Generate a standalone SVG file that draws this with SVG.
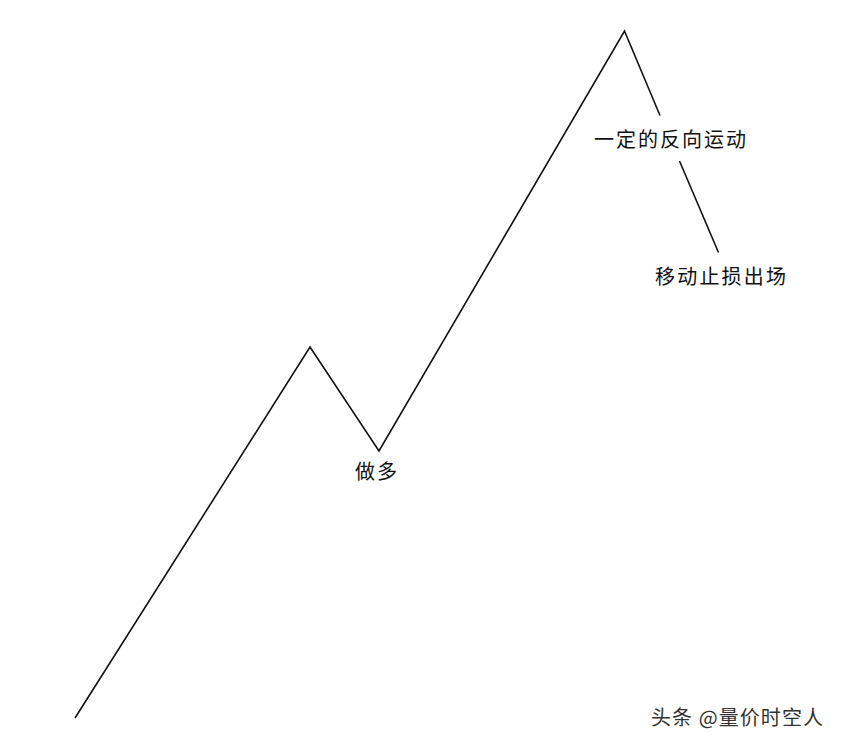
<svg xmlns="http://www.w3.org/2000/svg" width="845" height="749" viewBox="0 0 845 749">
<style>
.ln{fill:none;stroke:#111;stroke-width:1.6;stroke-linejoin:miter}
.lb{font-family:"Noto Sans CJK SC","Noto Sans",sans-serif;font-size:20px;fill:#111}
.wm{font-family:"Noto Sans CJK SC","Noto Sans",sans-serif;font-size:20px;fill:#333}
</style>
<rect width="845" height="749" fill="#fff"/>
<g id="connectors">
<polyline class="ln" points="75,718 310,347 379,451 624.5,31 660,115.5"/>
<line class="ln" x1="679.5" y1="161" x2="718.5" y2="252.5"/>
</g>
<g id="label-reverse"><text class="lb" x="594" y="147" textLength="152" lengthAdjust="spacing">一定的反向运动</text></g>
<g id="label-stop"><text class="lb" x="655" y="284" textLength="131" lengthAdjust="spacing">移动止损出场</text></g>
<g id="label-long"><text class="lb" x="355" y="479" textLength="42" lengthAdjust="spacing">做多</text></g>
<g id="watermark"><text class="wm" x="651" y="725" textLength="172" lengthAdjust="spacing">头条 @量价时空人</text></g>
</svg>
